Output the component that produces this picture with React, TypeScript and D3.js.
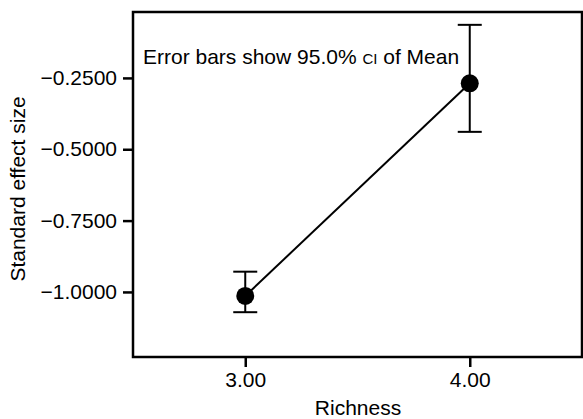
import React, { useEffect, useRef } from "react";
import * as d3 from "d3";

const richness = [3, 4];
const meanEffect = [-1.014, -0.269];
const ciLower = [-1.071, -0.439];
const ciUpper = [-0.929, -0.064];
const yTicks = [-0.25, -0.5, -0.75, -1.0];
const xTicks = [3, 4];

export default function App() {
    const svgRef = useRef<SVGSVGElement>(null);

    useEffect(() => {
        document.body.style.margin = "0";
        document.body.style.overflow = "hidden";

        const width = 583;
        const height = 419;
        const margin = { top: 12, right: 1, bottom: 62, left: 133 };
        const font = "Liberation Sans, Arial, sans-serif";
        const fs = 21;

        const root = d3.select(svgRef.current);
        root.selectAll("*").remove();
        root.attr("width", width).attr("height", height).style("display", "block");

        const x = d3.scaleLinear().domain([2.5, 4.5]).range([margin.left, width - margin.right]);
        const y = d3.scaleLinear().domain([-1.228, -0.019]).range([height - margin.bottom, margin.top]);

        const data = richness.map((r, i) => ({ r, m: meanEffect[i], lo: ciLower[i], hi: ciUpper[i] }));

        // frame
        root.append("rect")
            .attr("x", margin.left)
            .attr("y", margin.top)
            .attr("width", width - margin.right - margin.left)
            .attr("height", height - margin.bottom - margin.top)
            .attr("fill", "none")
            .attr("stroke", "#000")
            .attr("stroke-width", 2.5);

        const yAxis = root.append("g")
            .attr("transform", `translate(${margin.left},0)`)
            .call(d3.axisLeft(y).tickValues(yTicks).tickSize(10).tickPadding(6)
                .tickFormat((d: any) => d3.format(".4f")(d).replace("-", "\u2013")))
            .attr("font-family", font)
            .attr("font-size", fs);
        yAxis.select("path").remove();
        yAxis.selectAll("line").attr("stroke-width", 2.5);
        yAxis.selectAll("text").attr("fill", "#000");

        const xAxis = root.append("g")
            .attr("transform", `translate(0,${height - margin.bottom})`)
            .call(d3.axisBottom(x).tickValues(xTicks).tickFormat(d3.format(".2f")).tickSize(10).tickPadding(5))
            .attr("font-family", font)
            .attr("font-size", fs);
        xAxis.select("path").remove();
        xAxis.selectAll("line").attr("stroke-width", 2.5);
        xAxis.selectAll("text").attr("fill", "#000");

        // axis titles
        root.append("text")
            .attr("x", 358)
            .attr("y", 415)
            .attr("text-anchor", "middle")
            .attr("font-family", font)
            .attr("font-size", fs)
            .text("Richness");

        root.append("text")
            .attr("transform", `translate(25,189) rotate(-90)`)
            .attr("text-anchor", "middle")
            .attr("font-family", font)
            .attr("font-size", fs)
            .text("Standard effect size");

        // connecting line
        root.append("path")
            .datum(data)
            .attr("d", d3.line<any>().x((d) => x(d.r)).y((d) => y(d.m)))
            .attr("fill", "none")
            .attr("stroke", "#000")
            .attr("stroke-width", 2);

        // error bars
        const bars = root.append("g").attr("stroke", "#000").attr("stroke-width", 2);
        bars.selectAll("line.v").data(data).enter().append("line")
            .attr("x1", (d) => x(d.r)).attr("x2", (d) => x(d.r))
            .attr("y1", (d) => y(d.lo)).attr("y2", (d) => y(d.hi));
        bars.selectAll("line.lo").data(data).enter().append("line")
            .attr("x1", (d) => x(d.r) - 12).attr("x2", (d) => x(d.r) + 12)
            .attr("y1", (d) => y(d.lo)).attr("y2", (d) => y(d.lo));
        bars.selectAll("line.hi").data(data).enter().append("line")
            .attr("x1", (d) => x(d.r) - 12).attr("x2", (d) => x(d.r) + 12)
            .attr("y1", (d) => y(d.hi)).attr("y2", (d) => y(d.hi));

        root.selectAll("circle").data(data).enter().append("circle")
            .attr("cx", (d) => x(d.r))
            .attr("cy", (d) => y(d.m))
            .attr("r", 9)
            .attr("fill", "#000");

        // note
        const note = root.append("text")
            .attr("x", 143)
            .attr("y", 64)
            .attr("font-family", font)
            .attr("font-size", 21);
        note.append("tspan").text("Error bars show 95.0% ");
        note.append("tspan").attr("font-size", 15).text("CI");
        note.append("tspan").text(" of Mean");
    }, []);

    return (
        <div>
            <svg ref={svgRef} />
        </div>
    );
}
